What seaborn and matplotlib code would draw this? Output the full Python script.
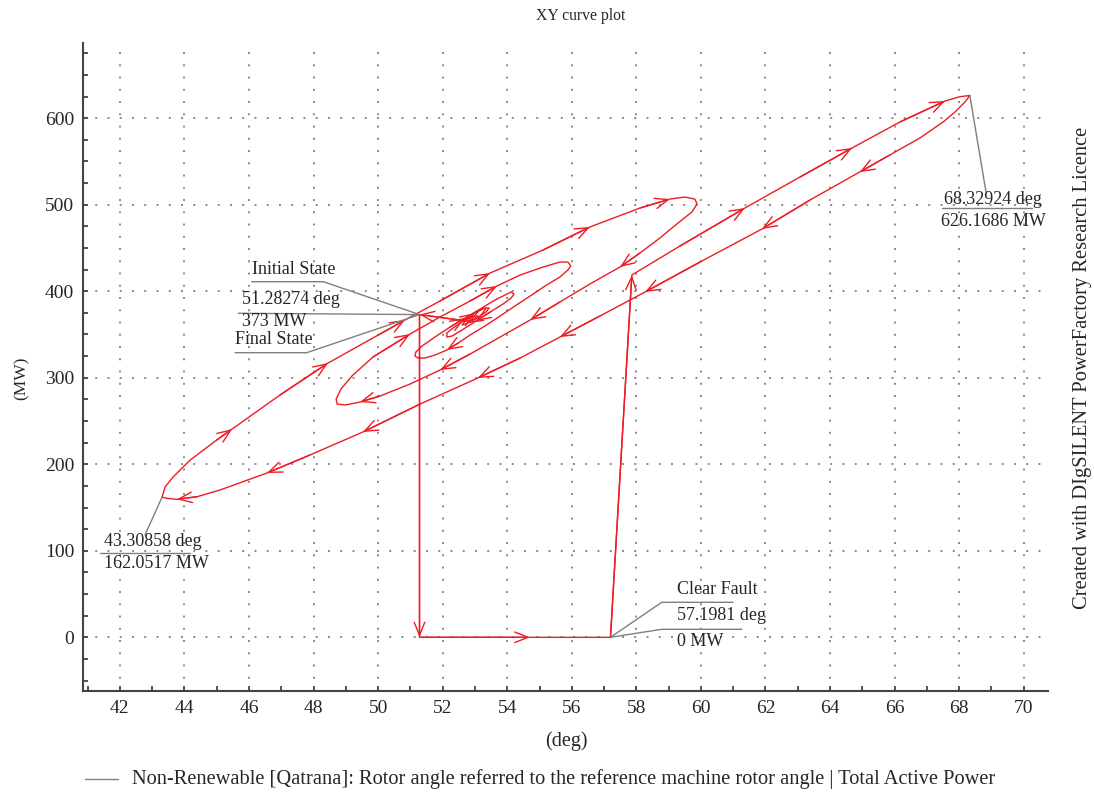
import matplotlib
matplotlib.use("Agg")
import matplotlib.pyplot as plt
from matplotlib.lines import Line2D
from matplotlib.ticker import MultipleLocator
import pandas as pd
import seaborn as sns

# Rotor angle / active power trajectory of the Qatrana unit (fault, clearing, swing)
angle_deg = [
    51.28274, 51.28274, 54.70, 57.1981, 57.86, 59.35, 61.36, 63.07, 64.68, 66.16,
    67.56, 68.02, 68.32924, 68.18, 67.87, 67.50, 66.78, 65.85, 64.92, 63.38,
    61.89, 59.97, 58.27, 56.87, 55.63, 54.40, 53.09, 51.30, 49.53, 47.89,
    46.56, 45.10, 44.39, 43.77, 43.46, 43.30858, 43.40, 43.65, 44.18, 45.00,
    45.48, 46.96, 48.45, 50.06, 50.83, 51.92, 53.47, 55.11, 56.56, 58.11,
    59.04, 59.50, 59.81, 59.88, 59.72, 59.29, 58.73, 58.11, 57.49, 56.56,
    55.63, 54.71, 53.78, 52.85, 51.92, 50.99, 50.06, 49.44, 48.98, 48.73,
    48.70, 48.85, 49.19, 49.84, 50.99, 51.92, 52.85, 53.68, 54.40, 55.11,
    55.63, 55.88, 55.97, 55.88, 55.63, 55.17, 54.71, 54.24, 53.78, 53.31,
    52.85, 52.48, 52.13, 51.76, 51.45, 51.24, 51.14, 51.17, 51.36, 51.76,
    52.23, 52.69, 53.16, 53.62, 53.93, 54.12, 54.21, 54.12, 53.87, 53.47,
    53.03, 52.60, 52.29, 52.13, 52.13, 52.32, 52.63, 53.00, 53.31, 53.44,
    53.34, 53.06, 52.78, 52.60, 52.72, 52.97, 53.09, 52.94, 52.75, 51.28274,
]
power_mw = [
    373.0, 0.0, 0.0, 0.0, 418.7, 452.2, 496.1, 532.0, 565.5, 595.5,
    619.8, 624.8, 626.1686, 618.6, 607.1, 595.5, 577.0, 557.4, 537.7, 505.4,
    471.9, 433.7, 399.1, 371.3, 347.0, 322.8, 299.7, 269.6, 237.3, 210.7,
    189.9, 170.2, 162.5, 159.5, 160.6, 162.0517, 173.7, 185.3, 204.9, 228.0,
    240.7, 280.0, 317.0, 350.5, 366.7, 388.7, 421.0, 447.6, 474.2, 496.1,
    506.5, 508.8, 506.5, 500.8, 491.5, 478.8, 461.5, 444.1, 427.9, 408.3,
    387.5, 366.7, 347.0, 327.4, 308.9, 292.7, 278.9, 271.9, 268.5, 269.6,
    275.4, 287.0, 302.0, 323.9, 350.5, 370.2, 388.7, 406.0, 418.7, 427.9,
    433.7, 433.7, 429.1, 424.5, 416.4, 406.0, 394.4, 382.9, 371.3, 359.8,
    349.4, 340.1, 332.0, 326.2, 322.8, 322.8, 325.1, 329.7, 336.6, 347.0,
    358.6, 369.0, 379.4, 389.8, 395.6, 399.1, 396.7, 392.1, 385.2, 375.9,
    365.5, 355.1, 348.2, 347.0, 351.7, 357.4, 365.5, 374.8, 380.6, 380.6,
    375.9, 369.0, 363.2, 360.9, 366.7, 371.3, 371.3, 366.7, 365.5, 373.0,
]
# samples that carry a direction arrowhead
arrow_idx = [1, 2, 4, 6, 8, 10, 18, 20, 22, 24, 26, 28, 30, 33, 40, 42, 44,
             46, 48, 50, 58, 61, 64, 67, 74, 77, 92, 101, 110, 117, 122, 129]

# labelled states: index into the trajectory
idx_initial, idx_clear, idx_max, idx_min = 0, 3, 12, 35

x_ticks = list(range(42, 71, 2))
y_ticks = [0, 100, 200, 300, 400, 500, 600]

title_text = "XY curve plot"
x_label = "(deg)"
y_label = "(MW)"
legend_text = ("Non-Renewable [Qatrana]: Rotor angle referred to the reference "
               "machine rotor angle | Total Active Power")
side_text = "Created with DIgSILENT PowerFactory Research Licence"

RED = "#ee1c24"
GREY = "#7f7f7f"
TXT = "#262626"
W, H = 1094, 795

sns.set_theme(style="white")
plt.rcParams["font.family"] = ["Liberation Serif", "DejaVu Serif"]

fig = plt.figure(figsize=(W / 100, H / 100), dpi=100)
ax = fig.add_axes([82.7 / W, 1 - 690.7 / H, (1048.3 - 82.7) / W, (690.7 - 42.7) / H])

df = pd.DataFrame({"angle": angle_deg, "power": power_mw, "step": range(len(angle_deg))})
sns.lineplot(data=df, x="angle", y="power", sort=False, estimator=None,
             color=RED, linewidth=1.0, ax=ax)

for i in arrow_idx:
    ax.annotate("", xy=(angle_deg[i], power_mw[i]),
                xytext=(angle_deg[i - 1], power_mw[i - 1]),
                arrowprops=dict(arrowstyle="->,head_length=0.95,head_width=0.38",
                                color=RED, lw=1.0, shrinkA=0, shrinkB=0,
                                mutation_scale=10))

ax.set_xlim(40.85, 70.76)
ax.set_ylim(-61.7, 687.2)
ax.set_xticks(x_ticks)
ax.set_yticks(y_ticks)
ax.xaxis.set_minor_locator(MultipleLocator(1))
ax.yaxis.set_minor_locator(MultipleLocator(25))
ax.tick_params(which="both", direction="in", length=3.8, width=1.3, color="#444444",
               labelsize=14, labelcolor=TXT, top=False, right=False,
               bottom=True, left=True)
ax.tick_params(axis="x", pad=7)
ax.tick_params(axis="y", pad=6)
ax.set_xlabel("")
ax.set_ylabel("")
ax.grid(True, which="major", color="#8a8a8a", linestyle=(0, (1, 5.3)), linewidth=1.4)
for s in ["top", "right"]:
    ax.spines[s].set_visible(False)
for s in ["left", "bottom"]:
    ax.spines[s].set_color("#444444")
    ax.spines[s].set_linewidth(1.5)


def fp(x, y):
    """figure pixel (from top-left) -> figure fraction"""
    return x / W, 1 - y / H


def pt_fig(i):
    disp = ax.transData.transform((angle_deg[i], power_mw[i]))
    return fig.transFigure.inverted().transform(disp)


def poly(points):
    xs = [p[0] for p in points]
    ys = [p[1] for p in points]
    fig.add_artist(Line2D(xs, ys, transform=fig.transFigure, color=GREY, lw=1.0))


def ftext(x, y, s, ha="left", size=13):
    fx, fy = fp(x, y)
    fig.text(fx, fy, s, ha=ha, va="center", fontsize=size, color=TXT)


def fmt(v):
    return f"{v:.10g}"


# maximum angle callout
p = pt_fig(idx_max)
poly([p, fp(986, 192)])
poly([fp(942, 208.3), fp(1032, 208.3)])
ftext(993, 199, f"{fmt(angle_deg[idx_max])} deg", ha="center")
ftext(993, 221, f"{fmt(power_mw[idx_max])} MW", ha="center")

# minimum angle callout
p = pt_fig(idx_min)
poly([p, fp(145, 535)])
poly([fp(100, 553), fp(190, 553)])
ftext(153, 542, f"{fmt(angle_deg[idx_min])} deg", ha="center")
ftext(156, 563, f"{fmt(power_mw[idx_min])} MW", ha="center")

# clearing of the fault
p = pt_fig(idx_clear)
poly([p, fp(661.7, 602.3), fp(733, 602.3)])
poly([p, fp(661.7, 629.3), fp(741.7, 629.3)])
ftext(676.7, 590, "Clear Fault")
ftext(676.7, 616, f"{fmt(angle_deg[idx_clear])} deg")
ftext(676.7, 641, f"{fmt(power_mw[idx_clear])} MW")

# initial / final operating point
p = pt_fig(idx_initial)
poly([fp(251.7, 281.7), fp(323.3, 281.7), p])
poly([fp(238.3, 313.3), p])
poly([fp(235, 352.7), fp(306.7, 352.7), p])
ftext(251.7, 270, "Initial State")
ftext(241.7, 300, f"{fmt(angle_deg[idx_initial])} deg")
ftext(241.7, 322, f"{fmt(power_mw[idx_initial])} MW")
ftext(235, 340, "Final State")

# titles and axis names
ftext(581, 16, title_text, ha="center", size=11.3)
ftext(566, 741, x_label, ha="center", size=14.5)
fx, fy = fp(22, 378)
fig.text(fx, fy, y_label, rotation=90, ha="center", va="center", fontsize=12.5, color=TXT)
fx, fy = fp(1082, 368)
fig.text(fx, fy, side_text, rotation=90, ha="center", va="center", fontsize=14.8, color=TXT)

# legend entry
poly([fp(85, 779), fp(118, 779)])
ftext(132, 779, legend_text, size=14.7)

fig.savefig("out.png", dpi=100)
